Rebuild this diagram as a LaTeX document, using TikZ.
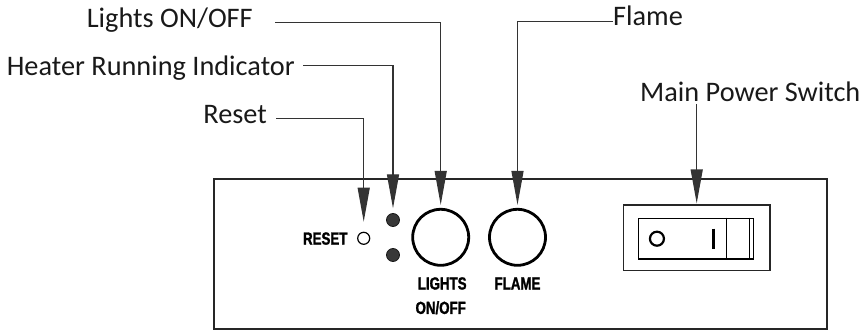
\documentclass[tikz,border=0pt]{standalone}
\usepackage{fontspec}
\setmainfont{Carlito}
\newfontfamily\panelfont[FakeStretch=0.76, FakeBold=1.5]{Liberation Sans}
\usetikzlibrary{arrows.meta, positioning, calc}

\begin{document}
\begin{tikzpicture}[
        x=1pt, y=-1pt,
        tag/.style = {inner sep=0pt, font=\fontsize{28.3}{33}\selectfont, text=black!90},
        paneltxt/.style = {inner sep=0pt, text height=12.6pt, text depth=0pt, font=\panelfont\bfseries\fontsize{17.5}{20}\selectfont},
        pointer/.style = {draw=black!80, line width=1.3pt, -{Triangle[length=34pt, width=12pt]}},
        led/.style = {circle, fill=black!78, draw=black!90, line width=0.8pt, minimum size=13pt, inner sep=0pt},
        knob/.style = {circle, draw, line width=2.8pt, minimum size=56pt, inner sep=0pt},
        frame/.style = {draw=black!85, line width=1.4pt}
    ]
        \useasboundingbox (0,0) rectangle (865,331);

        % Panel
        \draw [frame] (214,179) rectangle (827,329);

        % Controls
        \node (resetbtn) [circle, draw, line width=1.2pt, minimum size=12pt, inner sep=0pt] at (363.7,238.3) {};
        \node (ledtop) [led] at (393,220) {};
        \node (ledbot) [led] at (393,255) {};
        \node (lightsbtn) [knob] at (440.7,237.3) {};
        \node (flamebtn) [knob] at (517.5,237.3) {};

        % Switch
        \node (switchbox) [frame, line width=1.3pt, minimum width=146.7pt, minimum height=65.7pt] at (696.7,237.9) {};
        \node (rocker) [draw, line width=1.5pt, minimum width=115pt, minimum height=40.7pt] at (695.8,238.7) {};
        \draw [line width=1.2pt] ($(rocker.north west)+(89,0)$) -- ($(rocker.south west)+(89,0)$);
        \draw [line width=0.9pt] ($(rocker.north west)+(111.7,0)$) -- ($(rocker.south west)+(111.7,0)$);
        \draw [line width=2.2pt] ($(rocker.west)+(19.4,0)$) circle (7pt);
        \draw [line width=3pt] ($(rocker.west)+(76,-10)$) -- ++(0,20);

        % Panel text
        \node (resettxt) [paneltxt, left=9.5pt of resetbtn] {RESET};
        \node (lightstxt) [paneltxt, below=10pt of lightsbtn, xshift=1.5pt] {LIGHTS};
        \node (onofftxt) [paneltxt, below=11.4pt of lightstxt, xshift=-1.5pt] {ON/OFF};
        \node (flametxt) [paneltxt, below=10pt of flamebtn] {FLAME};

        % Callouts
        \node (lightstag) [tag, anchor=base east] at (253,27.3) {Lights ON/OFF};
        \node (heatertag) [tag, anchor=base east] at (295,76) {Heater Running Indicator};
        \node (resettag) [tag, anchor=base east] at (267,124) {Reset};
        \node (flametag) [tag, anchor=base west] at (613,26) {Flame};
        \node (maintag) [tag, anchor=base west] at (640,101.7) {Main Power Switch};

        \draw [pointer, shorten >=3pt] ($(lightstag.base east)+(22,-4.6)$) -| (lightsbtn.north);
        \draw [pointer, shorten >=4.8pt] ($(heatertag.base east)+(8,-10.3)$) -| (ledtop.north);
        \draw [pointer, shorten >=10pt] ($(resettag.base east)+(9,-5.7)$) -| (resetbtn.north);
        \draw [pointer, shorten >=3pt] ($(flametag.base west)+(0,-4.3)$) -| (flamebtn.north);
        \draw [pointer, shorten >=1pt] ($(maintag.base -| switchbox.north)+(0,2.3)$) -- (switchbox.north);

    \end{tikzpicture}
\end{document}
